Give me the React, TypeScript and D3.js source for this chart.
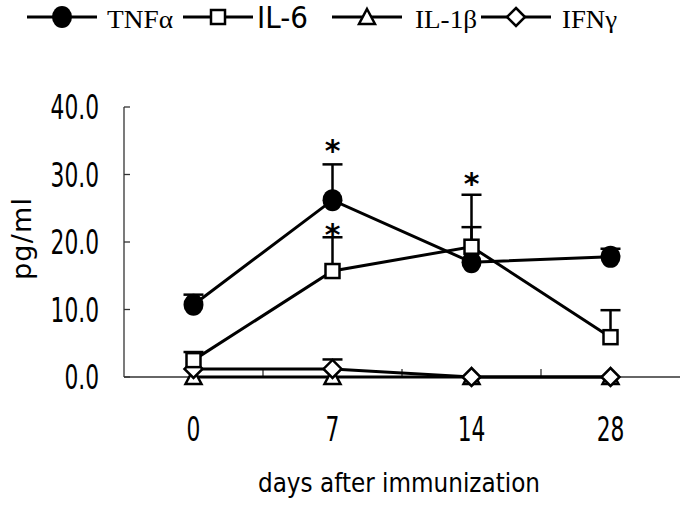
import React from 'react';
import * as d3 from 'd3';

// chart values
const days = ['0', '7', '14', '28'];
const yTicks = [0, 10, 20, 30, 40];
const tnf = [10.7, 26.2, 17.0, 17.8];
const tnfErr = [1.5, 5.3, 5.2, 1.2];
const il6 = [2.5, 15.7, 19.3, 5.9];
const il6Err = [1.2, 5.0, 7.7, 4.0];
const il1b = [0, 0, 0, 0];
const ifng = [1.2, 1.2, 0, 0];
const ifngErr = [0, 1.4, 0, 0];
// significance stars: day and height (pg/ml)
const starDays = ['7', '7', '14'];
const starValues = [34.5, 22.1, 29.6];

const W = 685;
const H = 506;
const gothic = '"DejaVu Sans", "Noto Sans", sans-serif';
const serif = '"Liberation Serif", "DejaVu Serif", serif';
const NARROW = 0.66;

function Marker({ type, x, y }: { type: string; x: number; y: number }) {
  const sw = 2.5;
  if (type === 'circle') return <ellipse cx={x} cy={y} rx={10} ry={11} fill="#000" />;
  if (type === 'square')
    return <rect x={x - 7} y={y - 7} width={14} height={14} fill="#fff" stroke="#000" strokeWidth={sw} />;
  if (type === 'triangle')
    return (
      <path
        d={`M${x},${y - 8}L${x + 8},${y + 7}L${x - 8},${y + 7}Z`}
        fill="#fff"
        stroke="#000"
        strokeWidth={sw}
      />
    );
  return (
    <path
      d={`M${x},${y - 9}L${x + 9},${y}L${x},${y + 9}L${x - 9},${y}Z`}
      fill="#fff"
      stroke="#000"
      strokeWidth={sw}
    />
  );
}

// condensed gothic-looking label
function Narrow({ x, y, anchor, size, children }: any) {
  return (
    <text
      transform={`translate(${x},${y}) scale(${NARROW},1)`}
      textAnchor={anchor}
      fontFamily={gothic}
      fontSize={size}
      fill="#000"
    >
      {children}
    </text>
  );
}

export default function App() {
  const x = d3.scaleBand().domain(days).range([124, 680]);
  const y = d3.scaleLinear().domain([0, 40]).range([377, 107]);
  const cx = (d: string) => (x(d) as number) + x.bandwidth() / 2;

  const line = d3
    .line<number>()
    .x((_, i) => cx(days[i]))
    .y((v) => y(v));

  const series = [
    { key: 'IL1B', values: il1b, err: null, marker: 'triangle' },
    { key: 'IFNG', values: ifng, err: ifngErr, marker: 'diamond' },
    { key: 'TNF', values: tnf, err: tnfErr, marker: 'circle' },
    { key: 'IL6', values: il6, err: il6Err, marker: 'square' },
  ];

  const legend = [
    { label: 'TNFα', marker: 'circle', x0: 27, tx: 107, len: 66, font: serif, size: 25 },
    { label: 'IL-6', marker: 'square', x0: 183, tx: 257, len: 51, font: gothic, size: 30 },
    { label: 'IL-1β', marker: 'triangle', x0: 332, tx: 415, len: 62, font: serif, size: 25 },
    { label: 'IFNγ', marker: 'diamond', x0: 481, tx: 562, len: 55, font: serif, size: 25 },
  ];

  const bandTicks = days.slice(1).map((d) => x(d) as number);

  return (
    <svg width={W} height={H} style={{ position: 'absolute', left: 0, top: 0, background: '#fff' }}>
      {/* legend */}
      {legend.map((l) => (
        <g key={l.label}>
          <line x1={l.x0} x2={l.x0 + 70} y1={17} y2={17} stroke="#000" strokeWidth={3} />
          <Marker type={l.marker} x={l.x0 + 35} y={17} />
          <text
            x={l.tx}
            y={28}
            fontFamily={l.font}
            fontSize={l.size}
            textLength={l.len}
            lengthAdjust="spacingAndGlyphs"
            fill="#000"
          >
            {l.label}
          </text>
        </g>
      ))}

      {/* axes */}
      <g stroke="#333" strokeWidth={1.3} fill="none">
        <line x1={124} x2={124} y1={y(40)} y2={y(0)} />
        <line x1={124} x2={680} y1={y(0)} y2={y(0)} />
        {yTicks.map((t) => (
          <line key={t} x1={124} x2={130} y1={y(t)} y2={y(t)} />
        ))}
        {bandTicks.map((t) => (
          <line key={t} x1={t} x2={t} y1={y(0)} y2={y(0) - 8} />
        ))}
      </g>
      {yTicks.map((t) => (
        <Narrow key={t} x={99} y={y(t) + 12} anchor="end" size={33}>
          {d3.format('.1f')(t)}
        </Narrow>
      ))}
      {days.map((d) => (
        <Narrow key={d} x={cx(d)} y={441} anchor="middle" size={33}>
          {d}
        </Narrow>
      ))}
      <text
        x={258}
        y={492}
        fontFamily={gothic}
        fontSize={27}
        textLength={282}
        lengthAdjust="spacingAndGlyphs"
        fill="#000"
      >
        days after immunization
      </text>
      <text
        transform="translate(31,280) rotate(-90)"
        fontFamily={gothic}
        fontSize={27}
        textLength={82}
        lengthAdjust="spacing"
        fill="#000"
      >
        pg/ml
      </text>

      {/* series */}
      {series.map((s) => (
        <g key={s.key}>
          {s.err &&
            s.values.map((v, i) =>
              s.err![i] > 0 ? (
                <g key={i} stroke="#000" strokeWidth={2.5}>
                  <line x1={cx(days[i])} x2={cx(days[i])} y1={y(v)} y2={y(v + s.err![i])} />
                  <line x1={cx(days[i]) - 10} x2={cx(days[i]) + 10} y1={y(v + s.err![i])} y2={y(v + s.err![i])} />
                </g>
              ) : null
            )}
          <path d={line(s.values) as string} fill="none" stroke="#000" strokeWidth={3} />
          {s.values.map((v, i) => (
            <Marker key={i} type={s.marker} x={cx(days[i])} y={y(v)} />
          ))}
        </g>
      ))}

      {/* significance stars */}
      {starDays.map((d, i) => (
        <text
          key={i}
          x={cx(d)}
          y={y(starValues[i]) + 17}
          textAnchor="middle"
          fontFamily={gothic}
          fontSize={30}
          fontWeight="bold"
          fill="#000"
        >
          *
        </text>
      ))}
    </svg>
  );
}
